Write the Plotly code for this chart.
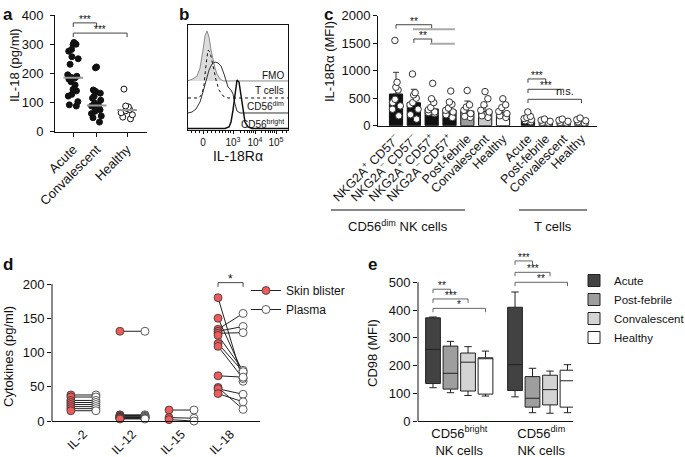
import numpy as np
import plotly.graph_objects as go

W, H = 685, 457
FONT = "Liberation Sans, Arial, sans-serif"

# ---------------- data ----------------
# panel a
a_categories = ["Acute", "Convalescent", "Healthy"]
a_acute = [306, 300, 299, 282, 276, 257, 250, 231, 195, 190, 186, 184, 180, 171, 160, 145, 140, 128, 122, 103, 92, 88]
a_conv = [222, 219, 143, 138, 132, 122, 115, 108, 98, 92, 88, 85, 82, 78, 75, 70, 62, 54, 48, 33]
a_healthy = [146, 88, 85, 80, 76, 72, 65, 58, 50, 44]
a_yticks = [0, 100, 200, 300, 400]
a_sig_labels = ["***", "***"]
a_sig_from = [0, 0]
a_sig_to = [1, 2]
a_sig_y = [373, 338]

# panel b (histogram overlays, staggered)
b_tick_vals = [15, 45, 67, 88]
b_tick_text = ["0", "10<sup>3</sup>", "10<sup>4</sup>", "10<sup>5</sup>"]
b_fmo_x = [0, 5, 9, 12, 15, 17, 19, 21, 23, 25, 27, 29, 32, 35, 100]
b_fmo_y = [47, 48.6, 51.4, 59.0, 76.2, 89.5, 94.3, 88.6, 76.2, 66.7, 59.0, 53.3, 48.6, 46.7, 46.7]
b_t_x = [0, 11, 14, 16, 18, 20, 22, 24, 26, 28, 31, 35, 40, 100]
b_t_y = [30.5, 30.5, 34.3, 42.8, 61.9, 76.2, 74.3, 66.7, 57.1, 47.6, 38.1, 32.4, 30.5, 30.5]
b_dim_x = [0, 4, 8, 12, 15, 18, 21, 24, 27, 30, 33, 36, 38, 40, 43, 45, 47, 49, 52, 100]
b_dim_y = [16.2, 17.1, 20.0, 26.7, 36.2, 47.6, 57.1, 62.9, 64.8, 63.8, 61.0, 53.3, 45.7, 41.0, 38.1, 34.3, 24.8, 18.1, 16.2, 16.2]
b_bright_x = [0, 37, 41, 43, 45, 47, 49, 51, 53, 55, 57, 60, 64, 100]
b_bright_y = [1.4, 1.4, 2.9, 7.6, 19.0, 36.2, 47.6, 45.7, 32.4, 17.1, 7.6, 2.9, 1.4, 1.4]
b_labels = ["FMO", "T cells", "CD56<sup>dim</sup>", "CD56<sup>bright</sup>"]
b_label_y = [51.5, 38, 22.5, 5.5]

# panel c
c_categories = ["NKG2A<sup>+</sup> CD57<sup>−</sup>", "NKG2A<sup>−</sup> CD57<sup>−</sup>",
                "NKG2A<sup>+</sup> CD57<sup>+</sup>", "NKG2A<sup>−</sup> CD57<sup>+</sup>",
                "Post-febrile", "Convalescent", "Healthy",
                "Acute", "Post-febrile", "Convalescent", "Healthy"]
c_means = [576, 418, 304, 285, 267, 255, 236, 130, 75, 80, 85]
c_sd = [395, 244, 194, 145, 182, 103, 109, 45, 20, 20, 25]
c_points = [
    [1550, 790, 700, 650, 480, 420, 360, 300, 180],
    [940, 600, 560, 500, 420, 380, 300, 200, 120],
    [770, 490, 420, 330, 290, 250, 240, 220],
    [630, 430, 390, 320, 280, 250, 200, 150],
    [640, 380, 340, 280, 220, 170, 150],
    [620, 490, 380, 280, 250, 180, 150],
    [490, 380, 330, 260, 220, 180, 150],
    [250, 170, 150, 130, 110, 90, 70],
    [120, 100, 80, 60, 50],
    [120, 100, 80, 60, 50],
    [140, 110, 90, 70, 50],
]
c_yticks = [0, 500, 1000, 1500, 2000]
c_sig_labels = ["**", "**", "***", "***", "n.s."]
c_sig_from = [0, 1, 7, 7, 7]
c_sig_to = [2, 2, 8, 9, 10]
c_sig_y = [1836, 1576, 850, 662, 480]
c_grey_from = [1, 2]
c_grey_to = [3, 3]
c_grey_y = [1753, 1491]
c_groups = ["CD56<sup>dim</sup> NK cells", "T cells"]

# panel d
d_categories = ["IL-2", "IL-12", "IL-15", "IL-18"]
d_blister = [[38, 35, 30, 27, 24, 21, 18, 15],
             [131, 9, 8, 7, 6, 5, 5, 4, 4, 3],
             [16, 5, 2],
             [180, 150, 134, 131, 128, 125, 113, 109, 66, 49, 47, 40]]
d_plasma = [[38, 35, 30, 27, 24, 21, 18, 15],
            [131, 9, 8, 7, 6, 5, 5, 4, 4, 3],
            [16, 4, 0],
            [58, 70, 157, 138, 129, 74, 72, 62, 64, 17, 39, 28]]
d_yticks = [0, 50, 100, 150, 200]
d_sig_y = 202

# panel e
e_groups = ["CD56<sup>bright</sup><br>NK cells", "CD56<sup>dim</sup><br>NK cells"]
e_status = ["Acute", "Post-febrile", "Convalescent", "Healthy"]
e_min = [[120, 87], [102, 30], [92, 28], [90, 30]]
e_q1 = [[135, 110], [115, 50], [108, 58], [97, 50]]
e_med = [[258, 203], [172, 82], [212, 113], [225, 145]]
e_q3 = [[372, 410], [270, 160], [245, 165], [228, 183]]
e_max = [[375, 465], [287, 190], [268, 180], [252, 203]]
e_yticks = [0, 100, 200, 300, 400, 500]
e_sig_labels = [["**", "***", "*"], ["***", "***", "**"]]
e_sig_y = [[475, 440, 406], [577, 536, 500]]

# axis titles
y_titles = ["IL-18 (pg/ml)", "IL-18Rα (MFI)", "Cytokines (pg/ml)", "CD98 (MFI)"]

# ---------------- layout helpers ----------------
def xd(p):
    return p / W

def yd(p):
    return 1 - p / H

BLACK = "#111111"
fig = go.Figure()
shapes = []
annotations = []

def bracket(xa, ya, x0, x1, y, tick, color="#444444", width=1):
    shapes.append(dict(type="path", xref=xa, yref=ya,
                       path=f"M{x0},{y - tick} L{x0},{y} L{x1},{y} L{x1},{y - tick}",
                       line=dict(color=color, width=width)))

def star(xa, ya, x, y, text, size=10, shift=-4):
    annotations.append(dict(xref=xa, yref=ya, x=x, y=y, text=text, showarrow=False,
                            yanchor="bottom", yshift=shift, font=dict(size=size, color=BLACK)))

# ---------------- panel a ----------------
a_pos = [0, 1, 2.3]
a_data = [a_acute, a_conv, a_healthy]
a_fill = [BLACK, BLACK, "white"]
for p, vals, fc in zip(a_pos, a_data, a_fill):
    fig.add_trace(go.Box(x0=p, y=vals, boxpoints="all", jitter=1, pointpos=0, width=0.6,
                         line=dict(width=0), fillcolor="rgba(0,0,0,0)",
                         marker=dict(color=fc, size=6, line=dict(color=BLACK, width=1)),
                         showlegend=False, xaxis="x", yaxis="y", hoveron="points"))
for p, vals in zip(a_pos, a_data):
    m = float(np.median(vals))
    fig.add_trace(go.Scatter(x=[p - 0.42, p + 0.42], y=[m, m], mode="lines",
                             line=dict(color="#9a9a9a", width=2), showlegend=False,
                             xaxis="x", yaxis="y"))
for lab, f, t, y in zip(a_sig_labels, a_sig_from, a_sig_to, a_sig_y):
    bracket("x", "y", a_pos[f], a_pos[t], y, 14)
    star("x", "y", (a_pos[f] + a_pos[t]) / 2, y, lab)

# ---------------- panel b ----------------
fig.add_trace(go.Scatter(x=b_fmo_x[:14] + b_fmo_x[13::-1], y=b_fmo_y[:14] + [b_fmo_y[13]] * 14,
                         fill="toself", fillcolor="#dcdcdc", mode="lines", line=dict(width=0),
                         showlegend=False, xaxis="x2", yaxis="y2"))
fig.add_trace(go.Scatter(x=b_fmo_x, y=b_fmo_y, mode="lines", line=dict(color="#8a8a8a", width=1),
                         showlegend=False, xaxis="x2", yaxis="y2"))
fig.add_trace(go.Scatter(x=b_t_x, y=b_t_y, mode="lines", line=dict(color=BLACK, width=1, dash="dot"),
                         showlegend=False, xaxis="x2", yaxis="y2"))
fig.add_trace(go.Scatter(x=b_dim_x, y=b_dim_y, mode="lines", line=dict(color="#333333", width=1),
                         showlegend=False, xaxis="x2", yaxis="y2"))
fig.add_trace(go.Scatter(x=b_bright_x, y=b_bright_y, mode="lines", line=dict(color=BLACK, width=1.5),
                         showlegend=False, xaxis="x2", yaxis="y2"))
for lab, y in zip(b_labels, b_label_y):
    annotations.append(dict(xref="x2", yref="y2", x=98, y=y, text=lab, showarrow=False,
                            xanchor="right", yanchor="middle", font=dict(size=10, color=BLACK)))

# ---------------- panel c ----------------
c_pos = [0, 1, 2, 3, 4, 5, 6, 7.4, 8.4, 9.4, 10.4]
c_colors = [BLACK] * 4 + ["#9c9c9c", "#c9c9c9", "white", BLACK, "#9c9c9c", "#c9c9c9", "white"]
fig.add_trace(go.Bar(x=c_pos, y=c_means, width=0.74, marker=dict(color=c_colors, line=dict(color=BLACK, width=1)),
                     error_y=dict(type="data", array=c_sd, arrayminus=[0] * len(c_sd), symmetric=False,
                                  color="#333333", thickness=1, width=3),
                     showlegend=False, xaxis="x3", yaxis="y3"))
for p, vals in zip(c_pos, c_points):
    fig.add_trace(go.Box(x0=p, y=vals, boxpoints="all", jitter=1, pointpos=0, width=0.62,
                         line=dict(width=0), fillcolor="rgba(0,0,0,0)",
                         marker=dict(color="white", size=6.5, line=dict(color="#333333", width=1)),
                         showlegend=False, xaxis="x3", yaxis="y3", hoveron="points"))
for lab, f, t, y in zip(c_sig_labels, c_sig_from, c_sig_to, c_sig_y):
    bracket("x3", "y3", c_pos[f], c_pos[t], y, 70)
    if lab == "n.s.":
        star("x3", "y3", (c_pos[f] + c_pos[t]) / 2 + 0.6, y, lab, size=11, shift=0)
    else:
        star("x3", "y3", (c_pos[f] + c_pos[t]) / 2, y, lab)
for f, t, y in zip(c_grey_from, c_grey_to, c_grey_y):
    shapes.append(dict(type="line", xref="x3", yref="y3", x0=c_pos[f] - 0.05 if f == 1 else c_pos[f] - 0.1,
                       x1=c_pos[t] + 0.3, y0=y, y1=y, line=dict(color="#aaaaaa", width=2)))
# group lines under panel c
shapes.append(dict(type="line", xref="paper", yref="paper", x0=xd(331), x1=xd(465), y0=yd(210), y1=yd(210),
                   line=dict(color=BLACK, width=1)))
shapes.append(dict(type="line", xref="paper", yref="paper", x0=xd(519), x1=xd(587), y0=yd(210), y1=yd(210),
                   line=dict(color=BLACK, width=1)))
annotations.append(dict(xref="paper", yref="paper", x=xd(398), y=yd(226), text=c_groups[0], showarrow=False,
                        xanchor="center", yanchor="middle", font=dict(size=13, color=BLACK)))
annotations.append(dict(xref="paper", yref="paper", x=xd(553), y=yd(226), text=c_groups[1], showarrow=False,
                        xanchor="center", yanchor="middle", font=dict(size=13, color=BLACK)))

# ---------------- panel d ----------------
d_off = 0.255
for k, (bl, pl) in enumerate(zip(d_blister, d_plasma)):
    xs, ys = [], []
    for b, p in zip(bl, pl):
        xs += [k - d_off, k + d_off, None]
        ys += [b, p, None]
    fig.add_trace(go.Scatter(x=xs, y=ys, mode="lines", line=dict(color="#222222", width=1),
                             showlegend=False, xaxis="x4", yaxis="y4"))
for k, (bl, pl) in enumerate(zip(d_blister, d_plasma)):
    fig.add_trace(go.Scatter(x=[k - d_off] * len(bl), y=bl, mode="markers",
                             marker=dict(color="#ee5b5b", size=8, line=dict(color="#333333", width=0.8)),
                             showlegend=False, xaxis="x4", yaxis="y4", cliponaxis=False))
    fig.add_trace(go.Scatter(x=[k + d_off] * len(pl), y=pl, mode="markers",
                             marker=dict(color="white", size=8, line=dict(color="#333333", width=0.8)),
                             showlegend=False, xaxis="x4", yaxis="y4", cliponaxis=False))
fig.add_trace(go.Scatter(x=[None], y=[None], mode="lines+markers", name="Skin blister",
                         marker=dict(color="#ee5b5b", size=8, line=dict(color="#333333", width=0.8)),
                         line=dict(color="#222222", width=1), xaxis="x4", yaxis="y4", legend="legend"))
fig.add_trace(go.Scatter(x=[None], y=[None], mode="lines+markers", name="Plasma",
                         marker=dict(color="white", size=8, line=dict(color="#333333", width=0.8)),
                         line=dict(color="#222222", width=1), xaxis="x4", yaxis="y4", legend="legend"))
bracket("x4", "y4", 3 - d_off, 3 + d_off, d_sig_y, 6)
star("x4", "y4", 3, d_sig_y, "*", size=12, shift=-5)
d_top = 210
shapes.append(dict(type="line", xref="x4 domain", yref="y4 domain", x0=0, x1=0, y0=0,
                   y1=max(d_yticks) / d_top, line=dict(color=BLACK, width=1)))

# ---------------- panel e ----------------
e_off = [-0.32, -0.107, 0.107, 0.32]
e_fill = ["#424242", "#9e9e9e", "#d4d4d4", "white"]
for i, name in enumerate(e_status):
    fig.add_trace(go.Box(x=[g + e_off[i] for g in range(len(e_groups))],
                         q1=e_q1[i], median=e_med[i], q3=e_q3[i],
                         lowerfence=e_min[i], upperfence=e_max[i],
                         width=0.18, whiskerwidth=0.5, fillcolor=e_fill[i],
                         line=dict(color="#222222", width=1), name=name,
                         xaxis="x5", yaxis="y5", legend="legend2"))
for g in range(len(e_groups)):
    for j, (lab, y) in enumerate(zip(e_sig_labels[g], e_sig_y[g])):
        x0 = g + e_off[0]
        x1 = g + e_off[j + 1]
        bracket("x5", "y5", x0, x1, y, 14, color="#666666")
        star("x5", "y5", (x0 + x1) / 2, y, lab)
e_top = 590
shapes.append(dict(type="line", xref="x5 domain", yref="y5 domain", x0=0, x1=0, y0=0,
                   y1=max(e_yticks) / e_top, line=dict(color=BLACK, width=1)))

# ---------------- panel letters & y titles ----------------
for lab, x, y in [("a", 1, 3), ("b", 177, 3), ("c", 322, 3), ("d", 1, 253), ("e", 366, 253)]:
    annotations.append(dict(xref="paper", yref="paper", x=xd(x), y=yd(y), text=f"<b>{lab}</b>",
                            showarrow=False, xanchor="left", yanchor="top",
                            font=dict(size=17, color=BLACK)))
for txt, x, y in zip(y_titles, [15, 330, 8, 372], [65, 62, 357, 353]):
    annotations.append(dict(xref="paper", yref="paper", x=xd(x), y=yd(y), text=txt, textangle=-90,
                            showarrow=False, xanchor="center", yanchor="middle",
                            font=dict(size=13, color=BLACK)))

# ---------------- axes ----------------
def axis(**kw):
    base = dict(showgrid=False, zeroline=False, showline=True, linecolor=BLACK, linewidth=1,
                ticks="outside", ticklen=4, tickcolor=BLACK, tickwidth=1, automargin=False,
                tickfont=dict(size=13, color=BLACK, family=FONT))
    base.update(kw)
    return base

layout = dict(
    width=W, height=H, margin=dict(l=0, r=0, t=0, b=0, autoexpand=False),
    paper_bgcolor="white", plot_bgcolor="rgba(0,0,0,0)",
    font=dict(family=FONT, color=BLACK, size=13),
    boxmode="overlay", barmode="overlay",
    xaxis=axis(domain=[xd(55), xd(147)], range=[-0.78, 3.15], tickmode="array", tickvals=a_pos,
               ticktext=a_categories, tickangle=-45, anchor="y"),
    yaxis=axis(domain=[yd(131.7), yd(15)], range=[0, 400], tickmode="array", tickvals=a_yticks,
               ticklabelstandoff=4, anchor="x"),
    xaxis2=axis(domain=[xd(188), xd(288)], range=[0, 100], tickmode="array", tickvals=b_tick_vals,
                ticktext=b_tick_text, tickfont=dict(size=10, color=BLACK), ticklen=3, mirror=True,
                minor=dict(tickvals=[3, 7, 11, 19, 23, 27, 31, 34, 37, 40, 42, 52, 56, 59, 61, 63, 65,
                                     73, 77, 80, 82, 84, 86, 94, 98], ticks="outside", ticklen=2,
                           tickcolor=BLACK),
                title=dict(text="IL-18Rα", font=dict(size=14), standoff=4), anchor="y2"),
    yaxis2=axis(domain=[yd(130), yd(25)], range=[0, 100], showticklabels=False, ticks="", mirror=True,
                anchor="x2"),
    xaxis3=axis(domain=[xd(378), xd(597)], range=[-1.01, 11.27], tickmode="array", tickvals=c_pos,
                ticktext=c_categories, tickangle=-45, ticks="", ticklen=0,
                tickfont=dict(size=12.5, color=BLACK), anchor="y3"),
    yaxis3=axis(domain=[yd(125.7), yd(15.7)], range=[0, 2000], tickmode="array", tickvals=c_yticks,
                anchor="x3"),
    xaxis4=axis(domain=[xd(52), xd(260)], range=[-0.64, 3.6], tickmode="array", tickvals=[0, 1, 2, 3],
                ticktext=d_categories, tickangle=-45, ticks="", ticklen=0,
                tickfont=dict(size=12.5, color=BLACK), anchor="y4"),
    yaxis4=axis(domain=[yd(421), yd(421 - d_top * 137 / 200)], range=[0, d_top], tickmode="array",
                tickvals=d_yticks, showline=False, anchor="x4"),
    xaxis5=axis(domain=[xd(418), xd(573)], range=[-0.503, 1.387], tickmode="array", tickvals=[0, 1],
                ticktext=e_groups, tickangle=0, ticks="", ticklen=0, anchor="y5"),
    yaxis5=axis(domain=[yd(421), yd(421 - e_top * 138.7 / 500)], range=[0, e_top], tickmode="array",
                tickvals=e_yticks, showline=False, anchor="x5"),
    legend=dict(x=xd(246), y=yd(276), xanchor="left", yanchor="top", bgcolor="rgba(0,0,0,0)",
                font=dict(size=12, color=BLACK), tracegroupgap=0),
    legend2=dict(x=xd(574), y=yd(266), xanchor="left", yanchor="top", bgcolor="rgba(0,0,0,0)",
                 font=dict(size=11.5, color=BLACK), tracegroupgap=0),
    shapes=shapes, annotations=annotations,
)
fig.update_layout(**layout)
fig.write_html("out.html", config={"displayModeBar": False},
               post_script="document.body.style.margin='0px';document.body.style.overflow='hidden';")
